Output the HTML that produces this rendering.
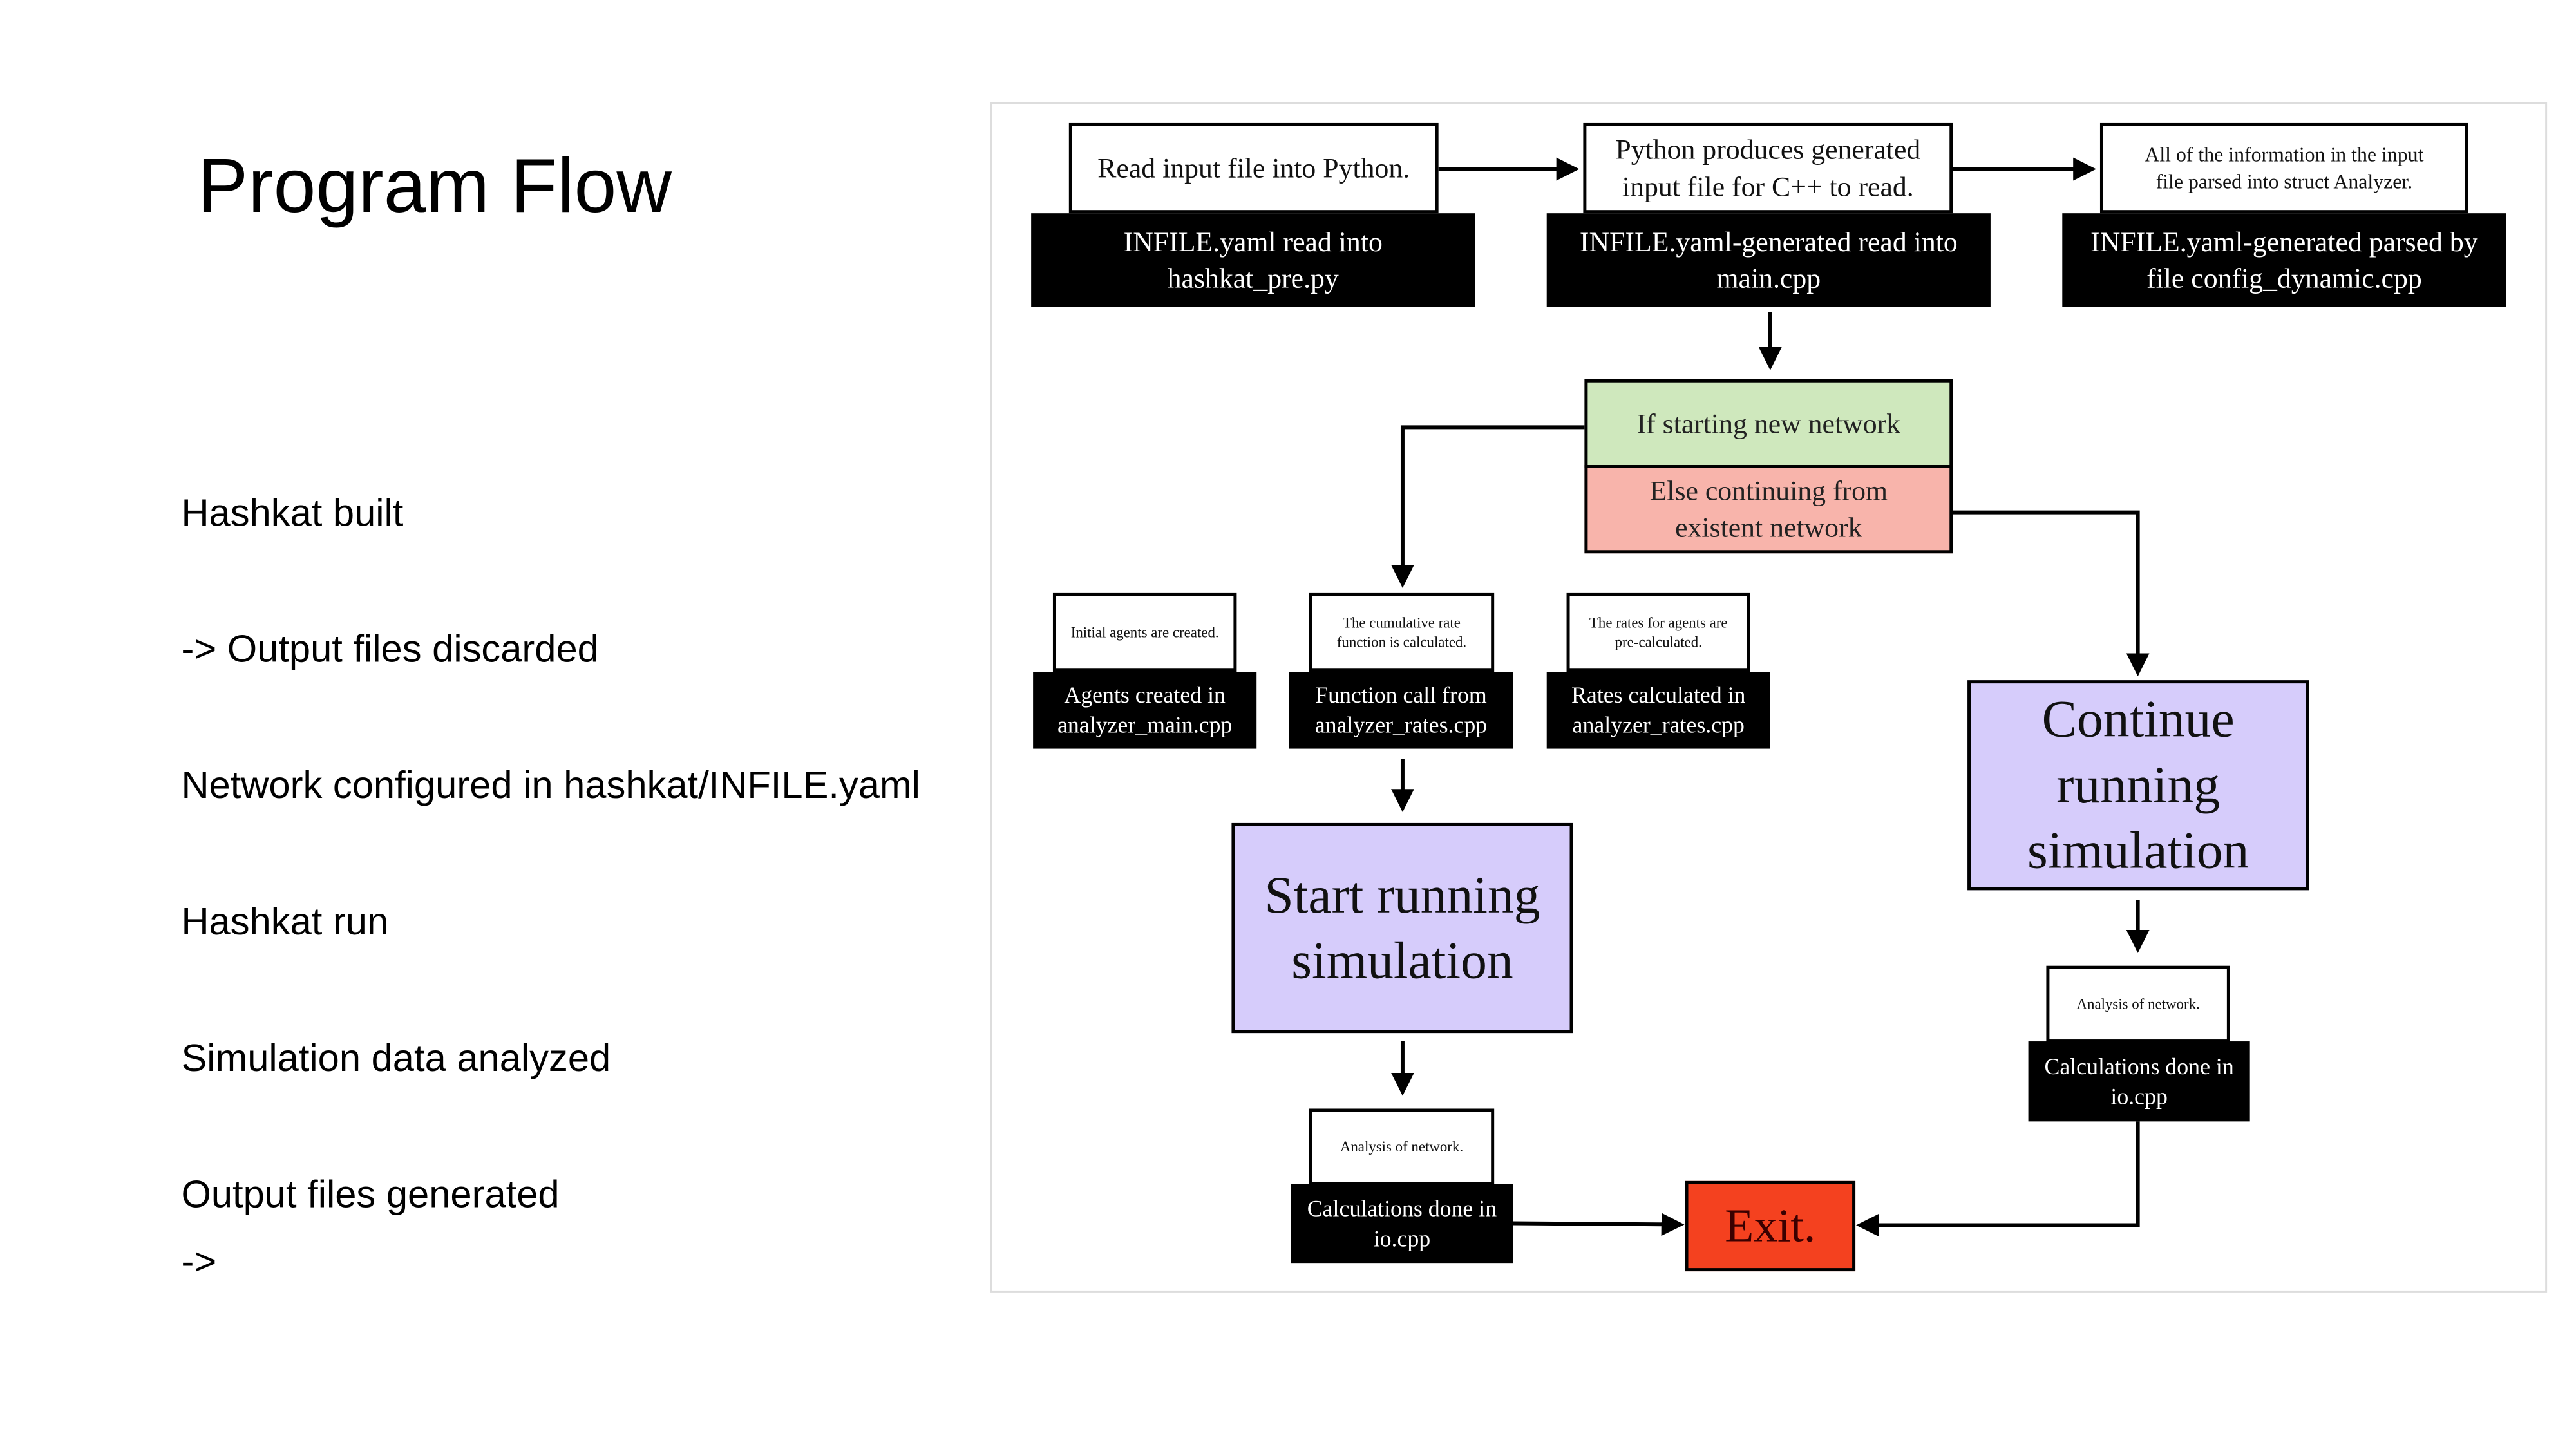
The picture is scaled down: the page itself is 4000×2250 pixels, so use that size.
<!DOCTYPE html>
<html><head><meta charset="utf-8"><style>
body{margin:0;width:4000px;height:2250px;background:#fff;position:relative;overflow:hidden;font-family:"Liberation Serif",serif}
#wrap{position:absolute;left:0;top:0;width:4000px;height:2250px;transform:scale(0.9945);transform-origin:0 0}
.b{position:absolute;box-sizing:border-box;display:flex;align-items:center;justify-content:center;text-align:center;line-height:1.3}
.w{background:#fff;border:5px solid #000;color:#111}
.k{background:#000;color:#fff;font-size:44px}
.l{position:absolute;left:283px;font-family:"Liberation Sans",sans-serif;font-size:60px;color:#000;line-height:1}
</style></head><body><div id="wrap">
<div style="position:absolute;left:308px;top:222px;font-family:'Liberation Sans',sans-serif;font-size:119px;color:#000">Program Flow</div>
<div class="l" style="top:771px">Hashkat built</div>
<div class="l" style="top:983px">-&gt; Output files discarded</div>
<div class="l" style="top:1196px">Network configured in hashkat/INFILE.yaml</div>
<div class="l" style="top:1409px">Hashkat run</div>
<div class="l" style="top:1622px">Simulation data analyzed</div>
<div class="l" style="top:1835px">Output files generated</div>
<div class="l" style="top:1940px">-&gt;</div>

<div style="position:absolute;left:1546px;top:159px;width:2431px;height:1859px;border:3px solid #ddd;box-sizing:border-box"></div>

<svg style="position:absolute;left:0;top:0" width="4000" height="2250">
<defs><marker id="a" markerWidth="6" markerHeight="6" refX="5" refY="3" orient="auto" markerUnits="strokeWidth"><path d="M0,0 L6,3 L0,6 Z" fill="#000"/></marker></defs>
<g stroke="#000" stroke-width="6" fill="none" marker-end="url(#a)">
<line x1="2246" y1="264" x2="2460" y2="264"/>
<line x1="3049" y1="264" x2="3267" y2="264"/>
<line x1="2764" y1="487" x2="2764" y2="572"/>
<polyline points="2474,667 2190,667 2190,912"/>
<polyline points="3049,800 3338,800 3338,1050"/>
<line x1="2190" y1="1185" x2="2190" y2="1262"/>
<line x1="2190" y1="1626" x2="2190" y2="1705"/>
<line x1="3338" y1="1405" x2="3338" y2="1482"/>
<line x1="2362" y1="1910" x2="2624" y2="1912"/>
<polyline points="3338,1751 3338,1913 2904,1913"/>
</g></svg>

<div class="b w" style="left:1669px;top:192px;width:577px;height:141px;font-size:44px">Read input file into Python.</div>
<div class="b k" style="left:1610px;top:333px;width:693px;height:146px">INFILE.yaml read into<br>hashkat_pre.py</div>
<div class="b w" style="left:2472px;top:192px;width:577px;height:141px;font-size:44px">Python produces generated<br>input file for C++ to read.</div>
<div class="b k" style="left:2415px;top:333px;width:693px;height:146px">INFILE.yaml-generated read into<br>main.cpp</div>
<div class="b w" style="left:3279px;top:192px;width:575px;height:141px;font-size:32px">All of the information in the input<br>file parsed into struct Analyzer.</div>
<div class="b k" style="left:3220px;top:333px;width:693px;height:146px">INFILE.yaml-generated parsed by<br>file config_dynamic.cpp</div>

<div class="b" style="left:2474px;top:592px;width:575px;height:139px;background:#cfe8bd;border:5px solid #000;font-size:44px;color:#222">If starting new network</div>
<div class="b" style="left:2474px;top:726px;width:575px;height:138px;background:#f8b4ab;border:5px solid #000;font-size:44px;color:#222">Else continuing from<br>existent network</div>

<div class="b w" style="left:1644px;top:926px;width:287px;height:123px;font-size:23px">Initial agents are created.</div>
<div class="b k" style="left:1613px;top:1049px;width:349px;height:120px;font-size:36px">Agents created in<br>analyzer_main.cpp</div>
<div class="b w" style="left:2044px;top:926px;width:289px;height:123px;font-size:23px">The cumulative rate<br>function is calculated.</div>
<div class="b k" style="left:2013px;top:1049px;width:349px;height:120px;font-size:36px">Function call from<br>analyzer_rates.cpp</div>
<div class="b w" style="left:2446px;top:926px;width:287px;height:123px;font-size:23px">The rates for agents are<br>pre-calculated.</div>
<div class="b k" style="left:2415px;top:1049px;width:349px;height:120px;font-size:36px">Rates calculated in<br>analyzer_rates.cpp</div>

<div class="b" style="left:1923px;top:1285px;width:533px;height:328px;background:#d6ccfb;border:5px solid #000;font-size:82px;line-height:1.25;color:#111">Start running<br>simulation</div>
<div class="b" style="left:3072px;top:1062px;width:533px;height:328px;background:#d6ccfb;border:5px solid #000;font-size:82px;line-height:1.25;color:#111">Continue<br>running<br>simulation</div>

<div class="b w" style="left:2044px;top:1731px;width:289px;height:120px;font-size:23px">Analysis of network.</div>
<div class="b k" style="left:2016px;top:1849px;width:346px;height:123px;font-size:36px">Calculations done in<br>io.cpp</div>
<div class="b w" style="left:3195px;top:1508px;width:287px;height:120px;font-size:23px">Analysis of network.</div>
<div class="b k" style="left:3167px;top:1626px;width:346px;height:125px;font-size:36px">Calculations done in<br>io.cpp</div>

<div class="b" style="left:2631px;top:1844px;width:266px;height:141px;background:#f4411f;border:5px solid #000;font-size:74px;color:#3a0000">Exit.</div>
</div></body></html>
